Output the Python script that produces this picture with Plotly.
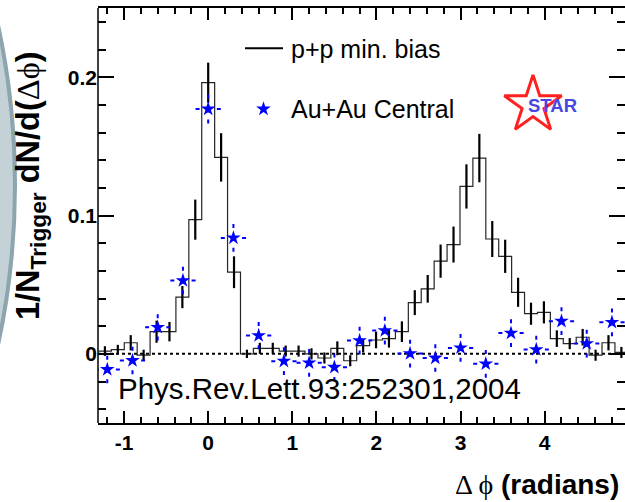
import plotly.graph_objects as go

# ---- data -------------------------------------------------------------
# p+p minimum bias: histogram bin centres (rad), contents and errors
pp_bin_width = 0.1535
pp_centers = [-1.228, -1.0745, -0.921, -0.7675, -0.614, -0.4605, -0.307, -0.1535,
              0.0, 0.1535, 0.307, 0.4605, 0.614, 0.7675, 0.921, 1.0745, 1.228,
              1.3815, 1.535, 1.6885, 1.842, 1.9955, 2.149, 2.3025, 2.456, 2.6095,
              2.763, 2.9165, 3.07, 3.2235, 3.377, 3.5305, 3.684, 3.8375, 3.991,
              4.1445, 4.298, 4.4515, 4.605, 4.7585, 4.912]
pp_values = [0.002, 0.003, 0.008, -0.001, 0.016, 0.016, 0.041, 0.097,
             0.196, 0.142, 0.059, 0.000, 0.004, 0.004, 0.002, 0.002, 0.000,
             -0.003, 0.004, -0.005, 0.006, 0.010, 0.011, 0.016, 0.037, 0.047,
             0.067, 0.079, 0.121, 0.1415, 0.083, 0.0705, 0.0445, 0.029, 0.030,
             0.011, 0.0074, 0.012, -0.001, 0.008, 0.001]
pp_errors = [0.0035, 0.0035, 0.0055, 0.004, 0.008, 0.007, 0.008, 0.0145,
             0.0145, 0.0175, 0.0115, 0.003, 0.004, 0.004, 0.004, 0.004, 0.004,
             0.004, 0.005, 0.004, 0.005, 0.006, 0.0065, 0.0075, 0.009, 0.010,
             0.012, 0.013, 0.016, 0.0175, 0.013, 0.012, 0.0105, 0.008, 0.008,
             0.006, 0.004, 0.006, 0.004, 0.0055, 0.004]

# Au+Au central
auau_phi = [-1.2, -0.9, -0.6, -0.3, 0.0, 0.3, 0.6, 0.9, 1.2, 1.5, 1.8,
            2.1, 2.4, 2.7, 3.0, 3.3, 3.6, 3.9, 4.2, 4.5, 4.8]
auau_values = [-0.0113, -0.0048, 0.0192, 0.053, 0.177, 0.0838, 0.0132,
               -0.0053, -0.0065, -0.0097, 0.0096, 0.0168, 0.0002, -0.003,
               0.0043, -0.0072, 0.015, 0.0031, 0.0236, 0.0074, 0.0228]
auau_errors = [0.01, 0.01, 0.0095, 0.01, 0.0105, 0.01, 0.0098, 0.01, 0.01,
               0.01, 0.01, 0.01, 0.01, 0.01, 0.01, 0.01, 0.01, 0.01, 0.01,
               0.01, 0.01]
auau_half_bin = 0.15

x_tick_values = [-1, 0, 1, 2, 3, 4]
x_tick_labels = ["-1", "0", "1", "2", "3", "4"]
y_tick_values = [0, 0.1, 0.2]
y_tick_labels = ["0", "0.1", "0.2"]

# ---- canvas geometry --------------------------------------------------
W, H = 625, 502
ML, MR, MT, MB = 98, 0, 8, 79
PW = W - ML - MR
PH = H - MT - MB
FONT = "Liberation Sans, Arial, Helvetica, sans-serif"


def px(xp):
    return (xp - ML) / PW


def py(yp):
    return (H - MB - yp) / PH


fig = go.Figure()

# p+p histogram outline
edges = [c - pp_bin_width / 2 for c in pp_centers] + [pp_centers[-1] + pp_bin_width / 2]
steps = pp_values + [pp_values[-1]]
fig.add_trace(go.Scatter(
    x=edges, y=steps, mode="lines",
    line=dict(shape="hv", color="#262626", width=1.2),
    hoverinfo="skip", showlegend=False))

# p+p statistical errors
fig.add_trace(go.Scatter(
    x=pp_centers, y=pp_values, mode="markers",
    marker=dict(size=1, color="rgba(0,0,0,0)"),
    error_y=dict(type="data", array=pp_errors, color="black",
                 thickness=2.2, width=0),
    hoverinfo="skip", showlegend=False))

# Au+Au error bars, dashed, drawn from each end toward the point
ex, ey = [], []
for x, y, e in zip(auau_phi, auau_values, auau_errors):
    ex += [x - auau_half_bin, x, None, x + auau_half_bin, x, None,
           x, x, None, x, x, None]
    ey += [y, y, None, y, y, None, y + e, y, None, y - e, y, None]
fig.add_trace(go.Scatter(
    x=ex, y=ey, mode="lines",
    line=dict(color="#0000ff", width=2, dash="4px,7px"),
    hoverinfo="skip", showlegend=False, connectgaps=False))

# Au+Au points
fig.add_trace(go.Scatter(
    x=auau_phi, y=auau_values, mode="markers",
    marker=dict(symbol="star", size=11, color="#0000ff",
                line=dict(width=0)),
    showlegend=False))

# legend star and experiment logo on an overlay axis spanning the frame
fig.add_trace(go.Scatter(
    x=[px(263.5)], y=[py(109)], mode="markers", xaxis="x2", yaxis="y2",
    marker=dict(symbol="star", size=11, color="#0000ff", line=dict(width=0)),
    cliponaxis=False, showlegend=False, hoverinfo="skip"))
fig.add_trace(go.Scatter(
    x=[px(533)], y=[py(105)], mode="markers", xaxis="x2", yaxis="y2",
    marker=dict(symbol="star-open", size=43, color="#ff2020",
                line=dict(width=3, color="#ff2020")),
    cliponaxis=False, showlegend=False, hoverinfo="skip"))

shapes = [
    # slide decoration at the far left
    dict(type="circle", xref="paper", yref="paper",
         x0=px(-1500), x1=px(15), y0=py(942.5), y1=py(-572.5),
         fillcolor="#c4d2d7", line=dict(color="#8ca5ae", width=4),
         layer="below"),
    # zero reference
    dict(type="line", xref="paper", yref="y", x0=0, x1=1, y0=0, y1=0,
         line=dict(color="black", width=2, dash="3px,3px"), layer="below"),
    # left frame edge
    dict(type="line", xref="paper", yref="paper", x0=0, x1=0, y0=0, y1=1,
         line=dict(color="black", width=1.5)),
    # legend line sample
    dict(type="line", xref="paper", yref="paper",
         x0=px(245), x1=px(283), y0=py(48.3), y1=py(48.3),
         line=dict(color="black", width=2)),
]

annotations = [
    dict(text="p+p min. bias", x=px(289), y=py(48.6), xref="paper",
         yref="paper", xanchor="left", yanchor="middle", showarrow=False,
         font=dict(family=FONT, size=25, color="black")),
    dict(text="Au+Au Central", x=px(289), y=py(108.6), xref="paper",
         yref="paper", xanchor="left", yanchor="middle", showarrow=False,
         font=dict(family=FONT, size=25, color="black")),
    dict(text="Phys.Rev.Lett.93:252301,2004", x=px(116), y=py(388),
         xref="paper", yref="paper", xanchor="left", yanchor="middle",
         showarrow=False, font=dict(family=FONT, size=29.5, color="black")),
    dict(text="<b>STAR</b>", x=px(552), y=py(106), xref="paper",
         yref="paper", xanchor="center", yanchor="middle", showarrow=False,
         font=dict(family=FONT, size=18.5, color="#4848e0")),
    dict(text='<span style="font-family:Liberation Serif">\u0394 \u03d5</span>'
              ' <b>(radians)</b>',
         x=px(621), y=py(484), xref="paper", yref="paper", xanchor="right",
         yanchor="middle", showarrow=False,
         font=dict(family=FONT, size=28, color="black")),
    dict(text='<b>1/N<sub>Trigger</sub> dN/d(</b>'
              '<span style="font-family:Liberation Serif">\u0394\u03d5</span>'
              '<b>)</b>',
         x=px(30), y=py(186), xref="paper", yref="paper", xanchor="center",
         yanchor="middle", textangle=-90, showarrow=False,
         font=dict(family=FONT, size=32.5, color="black")),
]

tickfont = dict(family=FONT, size=21, color="black", weight="bold")

fig.update_layout(
    width=W, height=H,
    margin=dict(l=ML, r=MR, t=MT, b=MB, pad=0),
    paper_bgcolor="white", plot_bgcolor="white",
    showlegend=False,
    shapes=shapes, annotations=annotations,
    xaxis=dict(range=[-1.31, 4.955], tickmode="array",
               tickvals=x_tick_values, ticktext=x_tick_labels,
               ticks="inside", ticklen=12, tickwidth=1.5, tickcolor="black",
               minor=dict(dtick=0.2, tick0=0, ticks="inside", ticklen=6,
                          tickwidth=1.5, tickcolor="black"),
               showline=True, linecolor="black", linewidth=1.5,
               mirror="ticks", showgrid=False, zeroline=False,
               tickfont=tickfont, fixedrange=True),
    yaxis=dict(range=[-0.05, 0.25], tickmode="array",
               tickvals=y_tick_values, ticktext=y_tick_labels,
               ticks="inside", ticklen=16, tickwidth=1.5, tickcolor="black",
               minor=dict(dtick=0.02, tick0=0, ticks="inside", ticklen=8,
                          tickwidth=1.5, tickcolor="black"),
               showline=False, mirror="ticks", showgrid=False,
               zeroline=False, tickfont=tickfont, fixedrange=True),
    xaxis2=dict(overlaying="x", anchor="y2", range=[0, 1], visible=False,
                fixedrange=True),
    yaxis2=dict(overlaying="y", anchor="x2", range=[0, 1], visible=False,
                fixedrange=True),
)

fig.write_html("out.html")
